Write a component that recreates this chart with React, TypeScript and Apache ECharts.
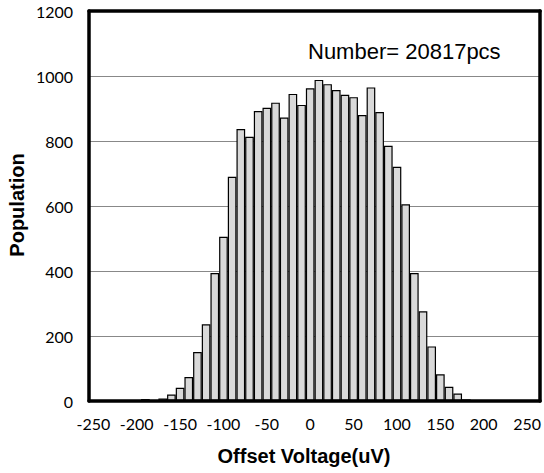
import React, { useEffect, useRef } from "react";
import * as echarts from "echarts";

// Bin labels (uV), 10 uV bins; last category is an unlabeled overflow bin
const categories: string[] = [
  "-250","-240","-230","-220","-210","-200","-190","-180","-170","-160",
  "-150","-140","-130","-120","-110","-100","-90","-80","-70","-60",
  "-50","-40","-30","-20","-10","0","10","20","30","40",
  "50","60","70","80","90","100","110","120","130","140",
  "150","160","170","180","190","200","210","220","230","240",
  "250","260",
];

// Population per bin
const population: number[] = [
  0, 0, 0, 0, 0, 2, 6, 3, 8, 20,
  41, 74, 151, 236, 394, 505, 690, 837, 813, 892,
  902, 918, 872, 945, 911, 962, 988, 975, 957, 942,
  935, 880, 965, 889, 785, 721, 605, 394, 276, 168,
  82, 44, 23, 5, 1, 0, 0, 0, 0, 0,
  0, 0,
];

const yTicks = { min: 0, max: 1200, interval: 200 };
const annotation = "Number= 20817pcs";
const xTitle = "Offset Voltage(uV)";
const yTitle = "Population";

export default function App() {
  const ref = useRef<HTMLDivElement>(null);
  useEffect(() => {
    if (!ref.current) return;
    const chart = echarts.init(ref.current, null, { renderer: "svg" });
    const frame = { lineStyle: { color: "#000", width: 3.5 } };
    chart.setOption({
      animation: false,
      backgroundColor: "#fff",
      grid: { left: 89, right: 2, top: 11, bottom: 72, containLabel: false },
      xAxis: [
        {
          type: "category",
          data: categories,
          position: "bottom",
          z: 10,
          axisLine: { show: true, onZero: false, ...frame },
          axisTick: { show: false },
          axisLabel: {
            interval: 4,
            margin: 14,
            color: "#000",
            fontFamily: "Lato, sans-serif",
            fontSize: 16,
          },
          splitLine: { show: false },
        },
        {
          type: "category",
          data: categories,
          position: "top",
          z: 10,
          axisLine: { show: true, onZero: false, ...frame },
          axisTick: { show: false },
          axisLabel: { show: false },
          splitLine: { show: false },
        },
      ],
      yAxis: [
        {
          type: "value",
          min: yTicks.min,
          max: yTicks.max,
          interval: yTicks.interval,
          position: "left",
          axisLine: { show: true, ...frame },
          axisTick: { show: false },
          axisLabel: {
            margin: 16,
            color: "#000",
            fontFamily: "Lato, sans-serif",
            fontSize: 16,
            formatter: (v: number) => String(v),
          },
          splitLine: { show: true, lineStyle: { color: "#888", width: 1.2 } },
        },
        {
          type: "value",
          min: yTicks.min,
          max: yTicks.max,
          interval: yTicks.interval,
          position: "right",
          z: 10,
          axisLine: { show: true, ...frame },
          axisTick: { show: false },
          axisLabel: { show: false },
          splitLine: { show: false },
        },
      ],
      series: [
        {
          type: "bar",
          data: population,
          xAxisIndex: 0,
          yAxisIndex: 0,
          barCategoryGap: "0%",
          itemStyle: { color: "#d9d9d9", borderColor: "#000", borderWidth: 1.2 },
        },
      ],
      graphic: [
        {
          type: "text",
          x: 308,
          y: 51,
          style: {
            text: annotation,
            font: "22px 'Liberation Sans', Arial, sans-serif",
            fill: "#000",
            textAlign: "left",
            textVerticalAlign: "middle",
          },
        },
        {
          type: "text",
          x: 304,
          y: 456,
          style: {
            text: xTitle,
            font: "bold 20px 'Liberation Sans', Arial, sans-serif",
            fill: "#000",
            textAlign: "center",
            textVerticalAlign: "middle",
          },
        },
        {
          type: "text",
          x: 16.5,
          y: 205,
          rotation: Math.PI / 2,
          style: {
            text: yTitle,
            font: "bold 20px 'Liberation Sans', Arial, sans-serif",
            fill: "#000",
            textAlign: "center",
            textVerticalAlign: "middle",
          },
        },
      ],
    });
    return () => chart.dispose();
  }, []);
  return (
    <div
      ref={ref}
      style={{ position: "fixed", left: 0, top: 0, width: 544, height: 473 }}
    />
  );
}
